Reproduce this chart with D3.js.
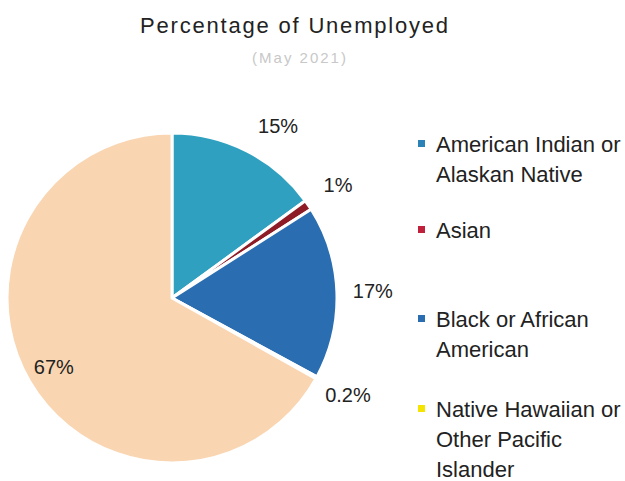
<!DOCTYPE html>
<html>
<head>
<meta charset="utf-8">
<script src="https://cdn.jsdelivr.net/npm/d3@7"></script>
<style>
  html, body { margin: 0; padding: 0; background: #fff; }
  svg { display: block; }
  text { font-family: "Liberation Sans", Arial, sans-serif; fill: #222; }
</style>
</head>
<body>
<svg id="chart" width="625" height="481"></svg>
<script>
// Share of unemployed by race (May 2021)
const categories = [
  "American Indian or Alaskan Native",
  "Asian",
  "Black or African American",
  "Native Hawaiian or Other Pacific Islander",
  "White"
];
const values = [15, 1, 17, 0.2, 67];
const valueLabels = ["15%", "1%", "17%", "0.2%", "67%"];
const colors = ["#2fa0c0", "#8e1c26", "#2a6db0", "#f3e21a", "#f9d5b1"];

// Legend rows (wrapped text) for the first four groups
const legendLines = [
  ["American Indian or", "Alaskan Native"],
  ["Asian"],
  ["Black or African", "American"],
  ["Native Hawaiian or", "Other Pacific", "Islander"]
];
const legendMarkerColors = ["#2a82b6", "#c0203a", "#2a6db0", "#f5e400"];

const svg = d3.select("#chart");

svg.append("text")
  .attr("x", 295).attr("y", 33)
  .attr("text-anchor", "middle")
  .style("font-size", "22px")
  .style("letter-spacing", "1.8px")
  .text("Percentage of Unemployed");

svg.append("text")
  .attr("x", 300).attr("y", 63)
  .attr("text-anchor", "middle")
  .style("font-size", "15px")
  .style("letter-spacing", "2px")
  .style("fill", "#c8c8c8")
  .text("(May 2021)");

const cx = 172, cy = 298, radius = 165;

const pie = d3.pie().sort(null).value(d => d);
const arcs = pie(values);

const arc = d3.arc().innerRadius(0).outerRadius(radius);
const outerLabelArc = d3.arc().innerRadius(201).outerRadius(201);
const innerLabelArc = d3.arc().innerRadius(137).outerRadius(137);

const g = svg.append("g").attr("transform", `translate(${cx},${cy})`);

g.selectAll("path.slice")
  .data(arcs)
  .join("path")
  .attr("class", "slice")
  .attr("d", arc)
  .attr("fill", (d, i) => colors[i])
  .attr("stroke", "#fff")
  .attr("stroke-width", 3)
  .attr("stroke-linejoin", "round");

// Value labels sit just outside their slice; the largest one sits inside.
g.selectAll("text.val")
  .data(arcs)
  .join("text")
  .attr("class", "val")
  .attr("transform", (d, i) => {
    const p = (i === 4 ? innerLabelArc : outerLabelArc).centroid(d);
    // the first label is nudged clockwise, clear of the slice's top edge
    const nudge = i === 0 ? [15, 7] : [0, 0];
    return `translate(${p[0] + nudge[0]},${p[1] + nudge[1]})`;
  })
  .attr("text-anchor", "middle")
  .attr("dy", "0.35em")
  .style("font-size", "20px")
  .text((d, i) => valueLabels[i]);

// Legend
const legendRowY = [152, 238, 327, 417];
const lineStep = 30;
const legend = svg.append("g");

legendLines.forEach((lines, i) => {
  const y0 = legendRowY[i];
  legend.append("rect")
    .attr("x", 418).attr("y", y0 - 12)
    .attr("width", 7).attr("height", 7)
    .attr("fill", legendMarkerColors[i]);
  lines.forEach((t, j) => {
    legend.append("text")
      .attr("x", 436).attr("y", y0 + j * lineStep)
      .style("font-size", "22px")
      .text(t);
  });
});
</script>
</body>
</html>
